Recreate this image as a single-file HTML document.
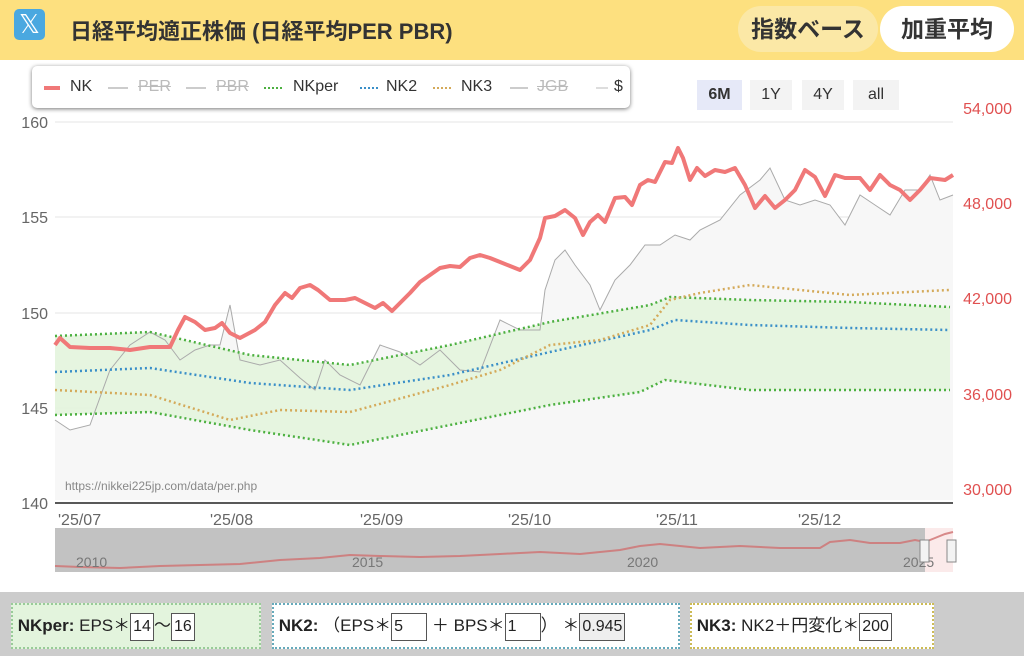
<!DOCTYPE html>
<html><head><meta charset="utf-8"><style>
body{margin:0;width:1024px;height:656px;background:#fff;font-family:"Liberation Sans","Noto Sans CJK JP",sans-serif;overflow:hidden;position:relative}
.hdr{position:absolute;left:0;top:0;width:1024px;height:60px;background:#fde07f}
.xlogo{position:absolute;left:14px;top:9px;width:31px;height:31px;background:#4aa8e0;border-radius:5px;color:#fff;font-size:26px;text-align:center;line-height:31px}
.title{position:absolute;left:70px;top:14px;font-size:22px;font-weight:bold;color:#333}
.btn1{position:absolute;left:738px;top:6px;width:140px;height:46px;border-radius:23px;background:#fbe8a6;font-size:23px;font-weight:bold;color:#333;line-height:46px;text-align:center}
.btn2{position:absolute;left:880px;top:6px;width:134px;height:46px;border-radius:23px;background:#fff;font-size:23px;font-weight:bold;color:#333;line-height:46px;text-align:center}
.leg{position:absolute;left:32px;top:66px;width:598px;height:42px;border-radius:5px;box-shadow:0 1px 4px #777;background:#fff;font-size:16px;color:#333}
.leg span{position:absolute;top:12px}
.leg .off{color:#bbb;text-decoration:line-through}
.rb{position:absolute;top:80px;height:30px;line-height:30px;font-size:16px;background:#f3f3f3;color:#333;text-align:center}
.bot{position:absolute;left:0;top:592px;width:1024px;height:64px;background:#ccc}
.box{position:absolute;top:603px;height:42px;line-height:42px;font-size:17px;color:#222}
.box b{font-weight:bold}
.in{display:inline-block;border:1px solid #555;background:#fff;height:26px;line-height:26px;padding:0 2px;vertical-align:middle;font-size:16px}
</style></head><body>
<div class="hdr"></div>
<div class="xlogo">𝕏</div>
<div class="title">日経平均適正株価 (日経平均PER PBR)</div>
<div class="btn1">指数ベース</div><div class="btn2">加重平均</div>
<svg style="position:absolute;left:0;top:0" width="1024" height="592">
<g stroke="#e6e6e6" stroke-width="1">
<line x1="55" y1="122" x2="953" y2="122"/><line x1="55" y1="217" x2="953" y2="217"/><line x1="55" y1="313" x2="953" y2="313"/><line x1="55" y1="408" x2="953" y2="408"/>
</g>
<polygon fill="#f7f7f7" points="55,420 70,430 90,425 110,370 130,345 150,332 165,340 180,360 195,350 210,345 220,345 230,305 240,360 260,365 280,360 300,378 315,390 325,360 340,375 360,385 380,345 400,352 420,365 440,350 460,370 480,372 500,320 520,330 540,330 545,290 555,260 565,250 575,265 590,285 600,310 615,280 630,265 645,245 660,245 675,235 690,240 700,230 720,220 740,195 760,180 770,168 785,200 800,205 815,200 830,205 845,225 860,195 875,205 890,215 905,190 920,190 930,175 940,200 953,195 953,500 55,500"/>
<polygon fill="#e3f4dd" opacity="0.9" points="55,336 150,332 250,355 350,365 450,345 550,322 650,305 670,297 750,300 850,302 950,307 950,390 850,390 750,390 665,380 640,392 550,405 450,425 350,445 250,430 150,412 55,415"/>
<polyline fill="none" stroke="#aaa" stroke-width="1" points="55,420 70,430 90,425 110,370 130,345 150,332 165,340 180,360 195,350 210,345 220,345 230,305 240,360 260,365 280,360 300,378 315,390 325,360 340,375 360,385 380,345 400,352 420,365 440,350 460,370 480,372 500,320 520,330 540,330 545,290 555,260 565,250 575,265 590,285 600,310 615,280 630,265 645,245 660,245 675,235 690,240 700,230 720,220 740,195 760,180 770,168 785,200 800,205 815,200 830,205 845,225 860,195 875,205 890,215 905,190 920,190 930,175 940,200 953,195"/>
<g fill="none" stroke-width="2.5" stroke-dasharray="2,3">
<polyline stroke="#4cb040" points="55,336 150,332 250,355 350,365 450,345 550,322 650,305 670,297 750,300 850,302 950,307"/>
<polyline stroke="#4cb040" points="55,415 150,412 250,430 350,445 450,425 550,405 640,392 665,380 750,390 850,390 950,390"/>
<polyline stroke="#3a8fc8" points="55,372 150,368 250,383 350,390 450,375 550,352 650,330 675,320 750,325 850,328 950,330"/>
<polyline stroke="#d4aa5a" points="55,390 150,395 230,420 280,410 350,412 450,385 500,370 550,345 600,340 650,325 670,300 700,293 750,285 800,290 850,295 950,290"/>
</g>
<polyline fill="none" stroke="#f07878" stroke-width="4" stroke-linejoin="round" points="55,345 60,338 70,347 90,348 110,348 130,350 150,347 170,347 178,330 185,317 195,322 205,330 215,328 222,323 230,333 240,338 255,330 265,322 275,305 285,293 292,298 300,288 310,285 318,290 330,300 345,300 355,298 365,303 375,308 383,303 392,311 400,303 410,293 420,282 430,275 440,268 450,266 460,267 470,258 480,255 490,258 500,262 510,266 520,270 530,260 540,238 545,218 555,216 565,210 575,218 583,235 590,222 598,215 605,222 615,198 625,197 632,205 640,185 648,180 655,182 665,162 672,163 678,148 683,158 690,180 697,168 705,176 715,170 725,172 735,168 745,185 755,208 765,196 775,208 785,200 795,190 805,170 815,177 825,196 835,175 845,178 860,178 870,190 880,175 890,185 900,190 910,200 920,190 930,178 945,180 953,175"/>
<line x1="55" y1="503" x2="953" y2="503" stroke="#222" stroke-width="1.5"/>
<g font-size="16" fill="#666" font-family="Liberation Sans,sans-serif">
<text x="48" y="128" text-anchor="end">160</text><text x="48" y="223" text-anchor="end">155</text><text x="48" y="319" text-anchor="end">150</text><text x="48" y="414" text-anchor="end">145</text><text x="48" y="509" text-anchor="end">140</text>
<text x="58" y="525">'25/07</text><text x="210" y="525">'25/08</text><text x="360" y="525">'25/09</text><text x="508" y="525">'25/10</text><text x="656" y="525">'25/11</text><text x="798" y="525">'25/12</text>
</g>
<g font-size="16" fill="#e05050" text-anchor="end"><text x="1012" y="114">54,000</text><text x="1012" y="209">48,000</text><text x="1012" y="304">42,000</text><text x="1012" y="400">36,000</text><text x="1012" y="495">30,000</text></g>
<text x="65" y="490" font-size="12" fill="#888">https://nikkei225jp.com/data/per.php</text>
<rect x="55" y="528" width="898" height="44" fill="#fbeaea"/>
<rect x="55" y="528" width="870" height="44" fill="#c2c2c2"/>
<polyline fill="none" stroke="#d07070" stroke-width="2" opacity="0.8" points="55,566 80,567 120,568 160,566 200,565 240,564 280,560 320,558 350,555 380,556 420,557 460,556 500,554 540,552 580,554 620,550 640,546 660,544 700,548 740,546 780,548 820,548 830,542 850,540 870,543 900,543 915,540 925,542 935,538 945,534 953,532"/>
<g font-size="14" fill="#777"><text x="76" y="567">2010</text><text x="352" y="567">2015</text><text x="627" y="567">2020</text><text x="903" y="567">2025</text></g>
<rect x="920" y="540" width="9" height="22" fill="#f3f3f3" stroke="#888"/><rect x="947" y="540" width="9" height="22" fill="#f3f3f3" stroke="#888"/>
</svg>
<div class="leg">
<svg style="position:absolute;left:0;top:0" width="598" height="42">
<line x1="12" y1="22" x2="28" y2="22" stroke="#f07878" stroke-width="4"/>
<line x1="76" y1="22" x2="96" y2="22" stroke="#ccc" stroke-width="2"/>
<line x1="154" y1="22" x2="174" y2="22" stroke="#ccc" stroke-width="2"/>
<line x1="232" y1="22" x2="252" y2="22" stroke="#4cb040" stroke-width="2" stroke-dasharray="2,2"/>
<line x1="328" y1="22" x2="346" y2="22" stroke="#3a8fc8" stroke-width="2" stroke-dasharray="2,2"/>
<line x1="401" y1="22" x2="419" y2="22" stroke="#d4aa5a" stroke-width="2" stroke-dasharray="2,2"/>
<line x1="478" y1="22" x2="496" y2="22" stroke="#ccc" stroke-width="2"/>
<line x1="564" y1="22" x2="576" y2="22" stroke="#ddd" stroke-width="2"/>
</svg>
<span style="left:38px">NK</span><span class="off" style="left:106px">PER</span><span class="off" style="left:184px">PBR</span><span style="left:261px">NKper</span><span style="left:354px">NK2</span><span style="left:429px">NK3</span><span class="off" style="left:505px">JGB</span><span style="left:582px">$</span>
</div>
<div class="rb" style="left:697px;width:45px;background:#e6e9f8;font-weight:bold">6M</div>
<div class="rb" style="left:750px;width:42px">1Y</div>
<div class="rb" style="left:802px;width:42px">4Y</div>
<div class="rb" style="left:853px;width:46px">all</div>
<div class="bot"></div>
<div class="box" style="left:11px;width:246px;background:#e3f4dd;border:2px dotted #9c9"> &nbsp;<b>NKper:</b> EPS＊<span class="in">14</span>〜<span class="in">16</span></div>
<div class="box" style="left:272px;width:404px;background:#fff;border:2px dotted #6ab"> &nbsp;<b>NK2:</b> （EPS＊<span class="in" style="width:30px">5</span> ＋ BPS＊<span class="in" style="width:30px">1</span>） ＊<span class="in" style="background:#eee">0.945</span></div>
<div class="box" style="left:690px;width:240px;background:#fff;border:2px dotted #cb5"> &nbsp;<b>NK3:</b> NK2＋円変化＊<span class="in">200</span></div>
</body></html>
